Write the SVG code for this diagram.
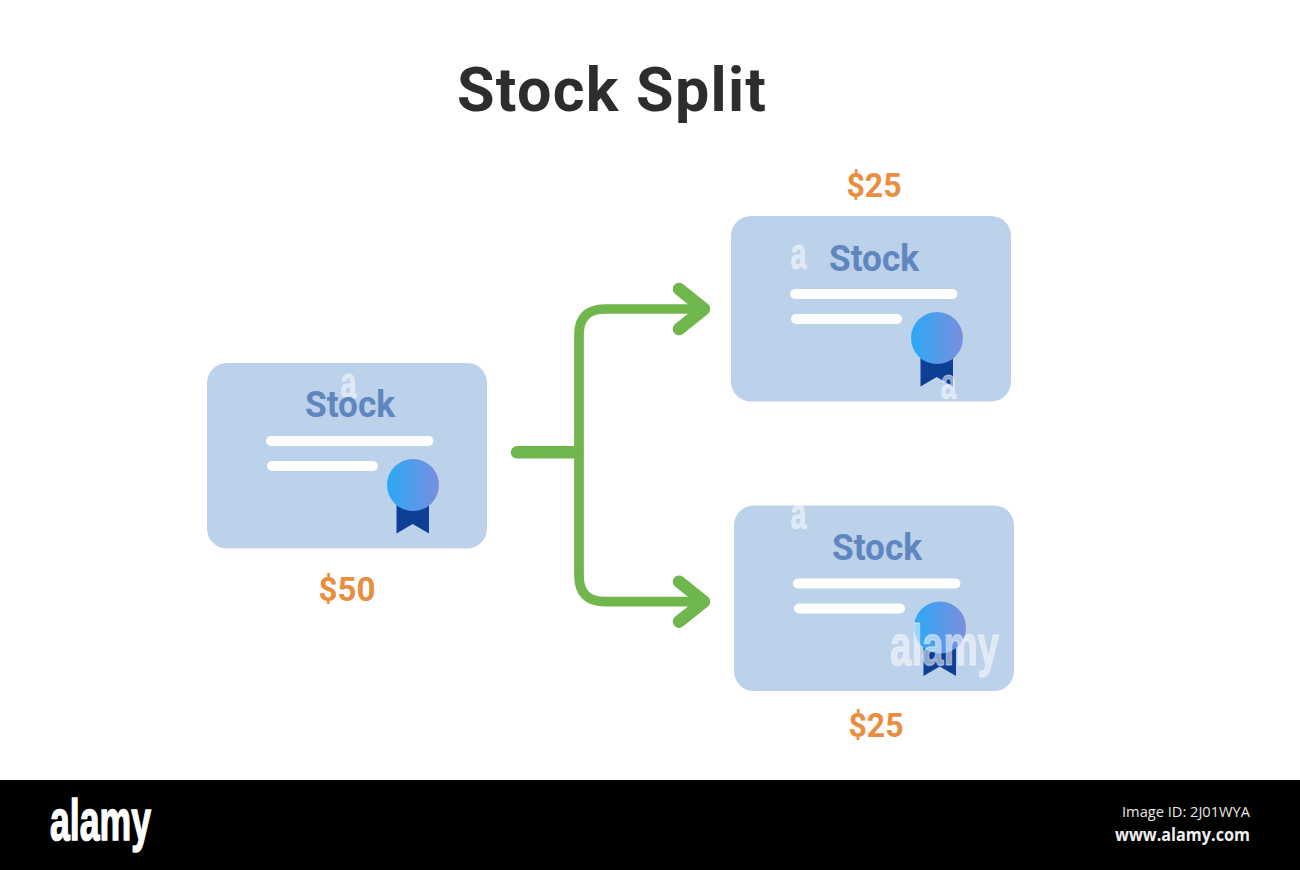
<svg xmlns="http://www.w3.org/2000/svg" width="1300" height="870" viewBox="0 0 1300 870">
<style>
.title{font:700 61px Roboto,"Liberation Sans",sans-serif;fill:#2d2d2d;text-anchor:middle}
.stock{font:700 36px Roboto,"Liberation Sans",sans-serif;fill:#5f86bf;text-anchor:middle}
.price{font:700 34px Roboto,"Liberation Sans",sans-serif;fill:#e98d3f;text-anchor:middle}
.wm{font:700 44px "Liberation Sans",sans-serif;fill:#fff;fill-opacity:.55;stroke:#fff;stroke-opacity:.4;stroke-width:.8}
.wm-big{font-size:57px;stroke-width:1.500}
.logo{font:700 57px "Liberation Sans",sans-serif}
.conn{fill:none;stroke:#6fb74d;stroke-linecap:round;stroke-linejoin:round}
</style>
<defs>
<linearGradient id="medal" x1="0" x2="1" y1="0" y2="0"><stop offset="0" stop-color="#2aa9f6"/><stop offset="1" stop-color="#7b8ede"/></linearGradient>
<g id="card">
<rect x="207" y="363" width="280" height="185.500" rx="20" fill="#bcd1ea"/>
<rect x="266" y="436" width="167.500" height="10" rx="5" fill="#fff"/>
<rect x="267" y="461" width="111" height="10" rx="5" fill="#fff"/>
<path d="M396.500 500H429V533.500L412.700 524L396.500 533.500Z" fill="#0d3f96"/>
<circle cx="413" cy="485" r="26" fill="url(#medal)"/>
</g>
</defs>
<rect width="1300" height="870" fill="#fff"/>
<text class="title" x="611.500" y="111" textLength="309" lengthAdjust="spacing">Stock Split</text>

<g id="connectors">
<path class="conn" stroke-width="12.500" d="M517 452.300H577"/>
<path class="conn" stroke-width="9.700" d="M705 309H605Q579 309 579 335V575.500Q579 601.700 605 601.700H705"/>
<path class="conn" stroke-width="12.500" d="M679 289L704 309L679 329"/>
<path class="conn" stroke-width="12.500" d="M679 581.700L704 601.700L679 621.700"/>
</g>

<g id="node-source">
<use href="#card"/>
<text class="wm" x="340.500" y="398" textLength="16" lengthAdjust="spacingAndGlyphs">a</text>
<text class="stock" x="350" y="417" textLength="90" lengthAdjust="spacingAndGlyphs">Stock</text>
<text class="price" x="347" y="601" textLength="57" lengthAdjust="spacingAndGlyphs">$50</text>
</g>

<g id="node-top">
<use href="#card" transform="translate(524 -147)"/>
<text class="stock" x="874" y="270.500" textLength="90" lengthAdjust="spacingAndGlyphs">Stock</text>
<text class="price" x="874" y="197" textLength="55" lengthAdjust="spacingAndGlyphs">$25</text>
<text class="wm" x="790.500" y="269" textLength="16" lengthAdjust="spacingAndGlyphs">a</text>
<text class="wm" x="940.500" y="399" textLength="16" lengthAdjust="spacingAndGlyphs">a</text>
</g>

<g id="node-bottom">
<use href="#card" transform="translate(527 142.500)"/>
<text class="stock" x="877" y="559.500" textLength="90" lengthAdjust="spacingAndGlyphs">Stock</text>
<text class="price" x="876" y="737" textLength="55" lengthAdjust="spacingAndGlyphs">$25</text>
<text class="wm" x="790.500" y="529" textLength="16" lengthAdjust="spacingAndGlyphs">a</text>
<text class="wm wm-big" x="890" y="665" textLength="109" lengthAdjust="spacingAndGlyphs">alamy</text>
</g>

<g id="footer">
<rect y="780" width="1300" height="90" fill="#000"/>
<text class="logo" x="50" y="840" fill="#fff" stroke="#fff" stroke-width="1.500" textLength="101" lengthAdjust="spacingAndGlyphs">alamy</text>
<text x="1122" y="817" fill="#e8e8e8" style="font:400 15px 'Open Sans','DejaVu Sans',sans-serif" textLength="128" lengthAdjust="spacingAndGlyphs">Image ID: 2J01WYA</text>
<text x="1115" y="841" fill="#f0f0f0" style="font:700 17px 'Open Sans','DejaVu Sans',sans-serif" textLength="135" lengthAdjust="spacingAndGlyphs">www.alamy.com</text>
</g>
</svg>
